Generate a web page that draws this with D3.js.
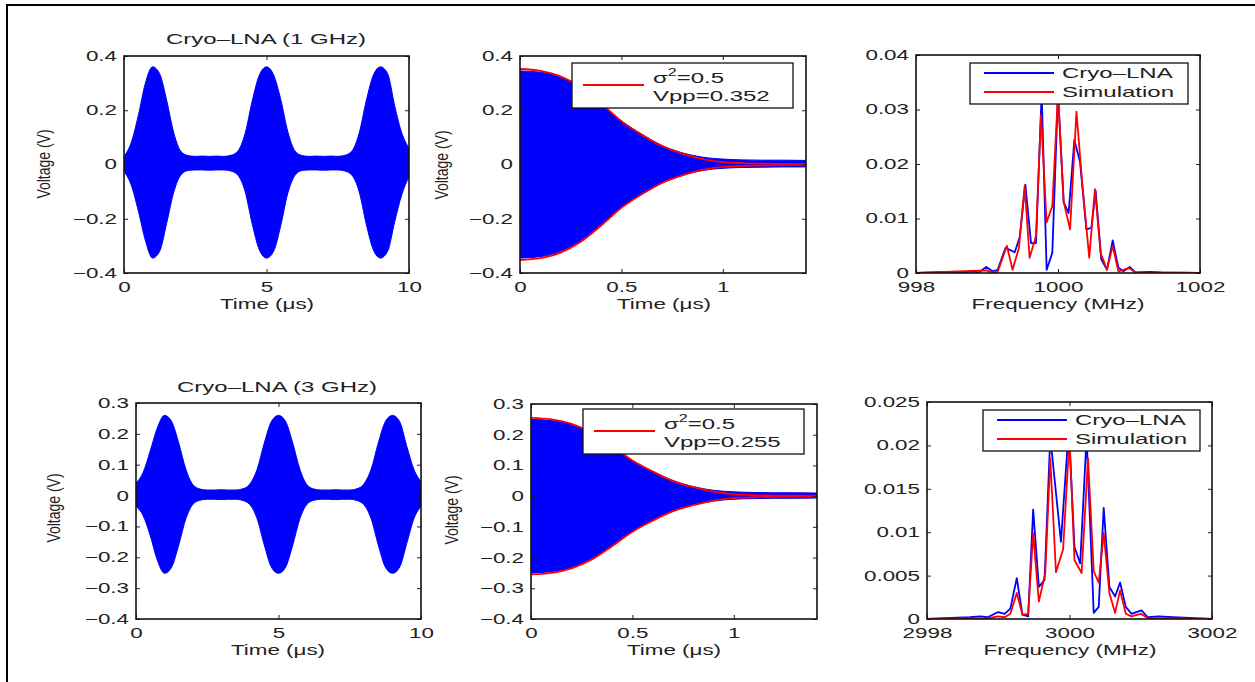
<!DOCTYPE html>
<html>
<head>
<meta charset="utf-8">
<script src="https://cdnjs.cloudflare.com/ajax/libs/d3/7.8.5/d3.min.js"></script>
<style>
body { margin: 0; background: #fff; }
text { font-family: "Liberation Sans", Arial, Helvetica, sans-serif; fill: #222; }
</style>
</head>
<body>
<div id="chart-holder"></div>
<script>
// ---- data ----

// full 10 us traces (envelope of the dense carrier)
var pulseTimes = [0, 0.25, 0.5, 0.75, 1, 1.25, 1.5, 1.75, 2, 2.25, 2.5, 2.75, 3, 3.25, 3.5, 3.75,
    4, 4.25, 4.5, 4.75, 5, 5.25, 5.5, 5.75, 6, 6.25, 6.5, 6.75, 7, 7.25, 7.5, 7.75,
    8, 8.25, 8.5, 8.75, 9, 9.25, 9.5, 9.75, 10];
var lna1Upper = [0.03, 0.08, 0.18, 0.3, 0.36, 0.335, 0.235, 0.115, 0.048, 0.033, 0.03, 0.031, 0.03, 0.031, 0.03, 0.034,
    0.05, 0.115, 0.235, 0.33, 0.36, 0.33, 0.24, 0.12, 0.05, 0.033, 0.03, 0.031, 0.03, 0.031, 0.03, 0.034,
    0.05, 0.115, 0.235, 0.33, 0.36, 0.335, 0.215, 0.115, 0.06];
var lna1Lower = [-0.025, -0.075, -0.17, -0.28, -0.345, -0.32, -0.215, -0.1, -0.038, -0.022, -0.02, -0.02, -0.021, -0.02, -0.02, -0.024,
    -0.04, -0.1, -0.22, -0.315, -0.345, -0.32, -0.225, -0.105, -0.04, -0.022, -0.02, -0.02, -0.021, -0.02, -0.02, -0.024,
    -0.04, -0.1, -0.22, -0.315, -0.345, -0.32, -0.21, -0.11, -0.045];
var lna3Upper = [0.04, 0.075, 0.145, 0.22, 0.26, 0.24, 0.17, 0.085, 0.035, 0.021, 0.018, 0.018, 0.019, 0.018, 0.018, 0.022,
    0.038, 0.085, 0.17, 0.24, 0.26, 0.24, 0.17, 0.085, 0.035, 0.021, 0.018, 0.018, 0.019, 0.018, 0.018, 0.022,
    0.038, 0.085, 0.17, 0.24, 0.26, 0.24, 0.16, 0.085, 0.045];
var lna3Lower = [-0.035, -0.065, -0.13, -0.21, -0.252, -0.232, -0.16, -0.075, -0.028, -0.015, -0.012, -0.012, -0.013, -0.012, -0.012, -0.016,
    -0.03, -0.075, -0.16, -0.232, -0.252, -0.232, -0.16, -0.075, -0.028, -0.015, -0.012, -0.012, -0.013, -0.012, -0.012, -0.016,
    -0.03, -0.075, -0.16, -0.232, -0.252, -0.232, -0.155, -0.075, -0.035];

// single pulse decay with gaussian fit
var decayTimes = [0, 0.1, 0.2, 0.3, 0.4, 0.5, 0.6, 0.7, 0.8, 0.9, 1.0, 1.1, 1.2, 1.3, 1.41];
var decay1Upper = [0.345, 0.34, 0.322, 0.283, 0.224, 0.16, 0.112, 0.07, 0.043, 0.027, 0.02, 0.017, 0.016, 0.016, 0.015];
var decay1Lower = [-0.345, -0.34, -0.32, -0.28, -0.222, -0.158, -0.11, -0.068, -0.04, -0.022, -0.014, -0.011, -0.01, -0.009, -0.009];
var decay1Fit = [0.352, 0.345, 0.325, 0.285, 0.225, 0.16, 0.11, 0.068, 0.04, 0.02, 0.009, 0.005, 0.003, 0.002, 0.001];
var decay3Upper = [0.25, 0.246, 0.233, 0.205, 0.162, 0.116, 0.081, 0.051, 0.031, 0.019, 0.014, 0.012, 0.011, 0.011, 0.01];
var decay3Lower = [-0.25, -0.246, -0.232, -0.203, -0.16, -0.114, -0.079, -0.049, -0.029, -0.016, -0.01, -0.008, -0.007, -0.007, -0.006];
var decay3Fit = [0.255, 0.25, 0.235, 0.206, 0.163, 0.116, 0.08, 0.049, 0.029, 0.0145, 0.0065, 0.0036, 0.002, 0.0015, 0.001];

// spectra around 1 GHz
var spec1MeasFreq = [998, 998.5, 998.65, 998.8, 998.88, 998.99, 999.08, 999.15, 999.26, 999.39, 999.46, 999.54, 999.62, 999.69,
    999.77, 999.84, 999.92, 1000, 1000.08, 1000.15, 1000.23, 1000.31, 1000.4, 1000.47, 1000.53, 1000.61, 1000.69,
    1000.77, 1000.85, 1000.92, 1001.01, 1001.09, 1001.3, 1001.45, 1002];
var spec1Meas = [0, 0.0002, 0.0001, 0.0003, 0.0001, 0.0011, 0.0003, 0.0006, 0.0046, 0.0038, 0.0065, 0.0162, 0.0055, 0.0055,
    0.033, 0.0006, 0.0037, 0.033, 0.013, 0.011, 0.0244, 0.0204, 0.008, 0.0083, 0.0151, 0.0025, 0.0006,
    0.006, 0.001, 0.0003, 0.0011, 0.0001, 0.0002, 0.0001, 0];
var spec1SimFreq = [998, 998.99, 999.08, 999.15, 999.28, 999.36, 999.45, 999.53, 999.6, 999.69, 999.76, 999.84, 999.92,
    1000, 1000.08, 1000.17, 1000.26, 1000.34, 1000.44, 1000.52, 1000.6, 1000.69, 1000.77, 1000.85, 1001, 1001.09, 1002];
var spec1Sim = [0, 0.0005, 0.0001, 0.0002, 0.005, 0.0006, 0.0046, 0.016, 0.0028, 0.0068, 0.029, 0.0093, 0.0123,
    0.033, 0.013, 0.008, 0.0296, 0.0167, 0.0028, 0.0154, 0.0037, 0.0006, 0.005, 0.0003, 0.0009, 0.0001, 0];

// spectra around 3 GHz
var spec3MeasFreq = [2998, 2998.6, 2998.75, 2998.85, 2999.0, 2999.09, 2999.17, 2999.26, 2999.34, 2999.42, 2999.49, 2999.57,
    2999.65, 2999.73, 2999.88, 2999.99, 3000.07, 3000.15, 3000.24, 3000.34, 3000.41, 3000.48, 3000.56, 3000.64,
    3000.71, 3000.79, 3000.87, 3001.01, 3001.1, 3001.25, 3001.45, 3002];
var spec3Meas = [0, 0.0002, 0.0003, 0.0002, 0.0008, 0.0006, 0.0012, 0.0047, 0.0005, 0.0003, 0.0126, 0.0037,
    0.0045, 0.021, 0.0089, 0.022, 0.0083, 0.0064, 0.021, 0.0007, 0.0014, 0.0128, 0.0037, 0.0026,
    0.0042, 0.0014, 0.0006, 0.001, 0.0002, 0.0003, 0.0002, 0];
var spec3SimFreq = [2998, 2998.85, 2999.0, 2999.09, 2999.17, 2999.26, 2999.34, 2999.42, 2999.49, 2999.57, 2999.66, 2999.73,
    2999.81, 2999.91, 3000.0, 3000.07, 3000.17, 3000.26, 3000.34, 3000.41, 3000.48, 3000.56, 3000.64, 3000.71,
    3000.79, 3000.87, 3001.0, 3001.1, 3002];
var spec3Sim = [0, 0.0001, 0.0003, 0.0002, 0.0006, 0.003, 0.0005, 0.0006, 0.0099, 0.002, 0.0053, 0.0185,
    0.0054, 0.008, 0.021, 0.0068, 0.0053, 0.0185, 0.0055, 0.0042, 0.0099, 0.003, 0.0007, 0.0033,
    0.0006, 0.0003, 0.0006, 0.0001, 0];

// tick labels
var timeTicks = [0, 5, 10];
var decayTicks = [0, 0.5, 1];
var volt1Ticks = [-0.4, -0.2, 0, 0.2, 0.4];
var volt3Ticks = [-0.4, -0.3, -0.2, -0.1, 0, 0.1, 0.2, 0.3];
var spec1YTicks = [0, 0.01, 0.02, 0.03, 0.04];
var spec3YTicks = [0, 0.005, 0.01, 0.015, 0.02, 0.025];
var spec1XTicks = [998, 1000, 1002];
var spec3XTicks = [2998, 3000, 3002];

// ---- drawing ----
var width = 1255;
var height = 682;
var SX = 1.6; // the source figure is stretched horizontally
var BLUE = '#0000ff';
var RED = '#ff0000';

var svg = d3.select('#chart-holder')
    .append('svg')
    .attr('width', width)
    .attr('height', height);

// outer frame (only top and left edges are visible)
svg.append('path')
    .attr('d', 'M7,' + height + 'V5H' + width)
    .attr('fill', 'none')
    .attr('stroke', '#000')
    .attr('stroke-width', 2);

var clipCount = 0;

function stretchX(sel) {
    sel.each(function() {
        var t = d3.select(this);
        var x = +t.attr('x') || 0;
        t.attr('x', x / SX).attr('transform', 'scale(' + SX + ',1)');
    });
}

function hText(parent, x, y, str, size, anchor) {
    var t = parent.append('text')
        .attr('x', x)
        .attr('y', y)
        .attr('text-anchor', anchor || 'middle')
        .attr('dominant-baseline', 'central')
        .style('font-size', size + 'px')
        .text(str);
    stretchX(t);
    return t;
}

function panel(box, cfg) {
    var w = box.r - box.l;
    var h = box.b - box.t;
    var g = svg.append('g').attr('transform', 'translate(' + box.l + ',' + box.t + ')');

    var x = d3.scaleLinear().domain(cfg.xDomain).range([0, w]);
    var y = d3.scaleLinear().domain(cfg.yDomain).range([h, 0]);

    clipCount++;
    var clipId = 'clip' + clipCount;
    g.append('clipPath').attr('id', clipId)
        .append('rect').attr('width', w).attr('height', h);

    var plot = g.append('g').attr('clip-path', 'url(#' + clipId + ')');
    var fmt = d3.format('~g');

    // axes with inward ticks, mirrored on top/right
    var left = g.append('g').call(d3.axisLeft(y).tickValues(cfg.yTicks).tickFormat(fmt)
        .tickSizeInner(-4).tickSizeOuter(0).tickPadding(7));
    var bottom = g.append('g').attr('transform', 'translate(0,' + h + ')')
        .call(d3.axisBottom(x).tickValues(cfg.xTicks).tickFormat(fmt)
        .tickSizeInner(-4).tickSizeOuter(0).tickPadding(9));
    g.append('g').attr('transform', 'translate(' + w + ',0)')
        .call(d3.axisRight(y).tickValues(cfg.yTicks).tickFormat('').tickSizeInner(-4).tickSizeOuter(0));
    g.append('g')
        .call(d3.axisTop(x).tickValues(cfg.xTicks).tickFormat('').tickSizeInner(-4).tickSizeOuter(0));

    g.selectAll('.domain').remove();
    g.selectAll('.tick line').attr('stroke', '#222');
    [left, bottom].forEach(function(a) {
        a.selectAll('text')
            .attr('fill', '#222')
            .style('font-size', '14px')
            .style('font-family', '"Liberation Sans", Arial, sans-serif');
        stretchX(a.selectAll('text'));
    });

    g.append('rect')
        .attr('width', w)
        .attr('height', h)
        .attr('fill', 'none')
        .attr('stroke', '#111')
        .attr('stroke-width', 1.6);

    // labels
    hText(svg, cfg.xLabel.x, cfg.xLabel.y, cfg.xLabel.text, 14);
    if (cfg.title) {
        hText(svg, cfg.title.x, cfg.title.y, cfg.title.text, 15);
    }
    if (cfg.yLabel) {
        svg.append('text')
            .attr('text-anchor', 'middle')
            .attr('dominant-baseline', 'central')
            .attr('transform', 'translate(' + cfg.yLabel.x + ',' + cfg.yLabel.y + ') rotate(-90) scale(1,' + (SX * 0.85) + ')')
            .style('font-size', '14px')
            .text('Voltage (V)');
    }

    return { g: g, plot: plot, x: x, y: y };
}

function envelope(p, times, upper, lower) {
    var area = d3.area()
        .x(function(d, i) { return p.x(times[i]); })
        .y0(function(d, i) { return p.y(lower[i]); })
        .y1(function(d) { return p.y(d); })
        .curve(d3.curveMonotoneX);
    p.plot.append('path')
        .datum(upper)
        .attr('d', area)
        .attr('fill', BLUE)
        .attr('stroke', BLUE)
        .attr('stroke-width', 1);
}

function trace(p, freqs, vals, color, curve) {
    var line = d3.line()
        .x(function(d, i) { return p.x(freqs[i]); })
        .y(function(d) { return p.y(d); })
        .curve(curve || d3.curveLinear);
    p.plot.append('path')
        .datum(vals)
        .attr('d', line)
        .attr('fill', 'none')
        .attr('stroke', color)
        .attr('stroke-width', 1.8)
        .attr('stroke-linejoin', 'round');
}

function legendBox(box) {
    svg.append('rect')
        .attr('x', box.l).attr('y', box.t)
        .attr('width', box.r - box.l).attr('height', box.b - box.t)
        .attr('fill', '#fff')
        .attr('stroke', '#111')
        .attr('stroke-width', 1.3);
}

function legendLine(x1, x2, yy, color) {
    svg.append('line')
        .attr('x1', x1).attr('x2', x2).attr('y1', yy).attr('y2', yy)
        .attr('stroke', color).attr('stroke-width', 2);
}

function fitLegend(box, vppText) {
    legendBox(box);
    legendLine(box.l + 11, box.l + 72, box.t + 22, RED);
    var t = svg.append('text')
        .attr('x', box.l + 81)
        .attr('y', box.t + 20)
        .style('font-size', '15px');
    t.append('tspan').text('\u03c3');
    t.append('tspan').attr('dy', -7).style('font-size', '10px').text('2');
    t.append('tspan').attr('dy', 7).text('=0.5');
    stretchX(t);
    var v = svg.append('text')
        .attr('x', box.l + 81)
        .attr('y', box.t + 38)
        .style('font-size', '15px')
        .text(vppText);
    stretchX(v);
}

function specLegend(box) {
    legendBox(box);
    var y1 = box.t + 10;
    var y2 = box.t + 29;
    legendLine(box.l + 14, box.l + 84, y1, BLUE);
    legendLine(box.l + 14, box.l + 84, y2, RED);
    hText(svg, box.l + 92, y1, 'Cryo\u2013LNA', 15, 'start');
    hText(svg, box.l + 92, y2, 'Simulation', 15, 'start');
}

// ---- top row: 1 GHz ----
var p1 = panel({ l: 124, r: 409, t: 56, b: 273 }, {
    xDomain: [0, 10], yDomain: [-0.4, 0.4], xTicks: timeTicks, yTicks: volt1Ticks,
    title: { x: 266, y: 39, text: 'Cryo\u2013LNA (1 GHz)' },
    xLabel: { x: 267, y: 304, text: 'Time (\u03bcs)' },
    yLabel: { x: 44, y: 164 }
});
envelope(p1, pulseTimes, lna1Upper, lna1Lower);

var p2 = panel({ l: 520, r: 806, t: 56, b: 273 }, {
    xDomain: [0, 1.41], yDomain: [-0.4, 0.4], xTicks: decayTicks, yTicks: volt1Ticks,
    xLabel: { x: 664, y: 304, text: 'Time (\u03bcs)' },
    yLabel: { x: 442, y: 165 }
});
envelope(p2, decayTimes, decay1Upper, decay1Lower);
trace(p2, decayTimes, decay1Fit, RED, d3.curveMonotoneX);
trace(p2, decayTimes, decay1Fit.map(function(d) { return -d; }), RED, d3.curveMonotoneX);
fitLegend({ l: 572, r: 793, t: 63, b: 108 }, 'Vpp=0.352');

var p3 = panel({ l: 916, r: 1200, t: 55, b: 273 }, {
    xDomain: [998, 1002], yDomain: [0, 0.04], xTicks: spec1XTicks, yTicks: spec1YTicks,
    xLabel: { x: 1058, y: 304, text: 'Frequency (MHz)' }
});
trace(p3, spec1MeasFreq, spec1Meas, BLUE);
trace(p3, spec1SimFreq, spec1Sim, RED);
specLegend({ l: 970, r: 1188, t: 63, b: 104 });

// ---- bottom row: 3 GHz ----
var p4 = panel({ l: 136, r: 421, t: 403, b: 619 }, {
    xDomain: [0, 10], yDomain: [-0.4, 0.3], xTicks: timeTicks, yTicks: volt3Ticks,
    title: { x: 277, y: 387, text: 'Cryo\u2013LNA (3 GHz)' },
    xLabel: { x: 278, y: 650, text: 'Time (\u03bcs)' },
    yLabel: { x: 54, y: 508 }
});
envelope(p4, pulseTimes, lna3Upper, lna3Lower);

var p5 = panel({ l: 531, r: 817, t: 404, b: 619 }, {
    xDomain: [0, 1.41], yDomain: [-0.4, 0.3], xTicks: decayTicks, yTicks: volt3Ticks,
    xLabel: { x: 674, y: 650, text: 'Time (\u03bcs)' },
    yLabel: { x: 452, y: 510 }
});
envelope(p5, decayTimes, decay3Upper, decay3Lower);
trace(p5, decayTimes, decay3Fit, RED, d3.curveMonotoneX);
trace(p5, decayTimes, decay3Fit.map(function(d) { return -d; }), RED, d3.curveMonotoneX);
fitLegend({ l: 583, r: 804, t: 409, b: 454 }, 'Vpp=0.255');

var p6 = panel({ l: 927, r: 1212, t: 402, b: 619 }, {
    xDomain: [2998, 3002], yDomain: [0, 0.025], xTicks: spec3XTicks, yTicks: spec3YTicks,
    xLabel: { x: 1070, y: 650, text: 'Frequency (MHz)' }
});
trace(p6, spec3MeasFreq, spec3Meas, BLUE);
trace(p6, spec3SimFreq, spec3Sim, RED);
specLegend({ l: 983, r: 1200, t: 410, b: 451 });
</script>
</body>
</html>
